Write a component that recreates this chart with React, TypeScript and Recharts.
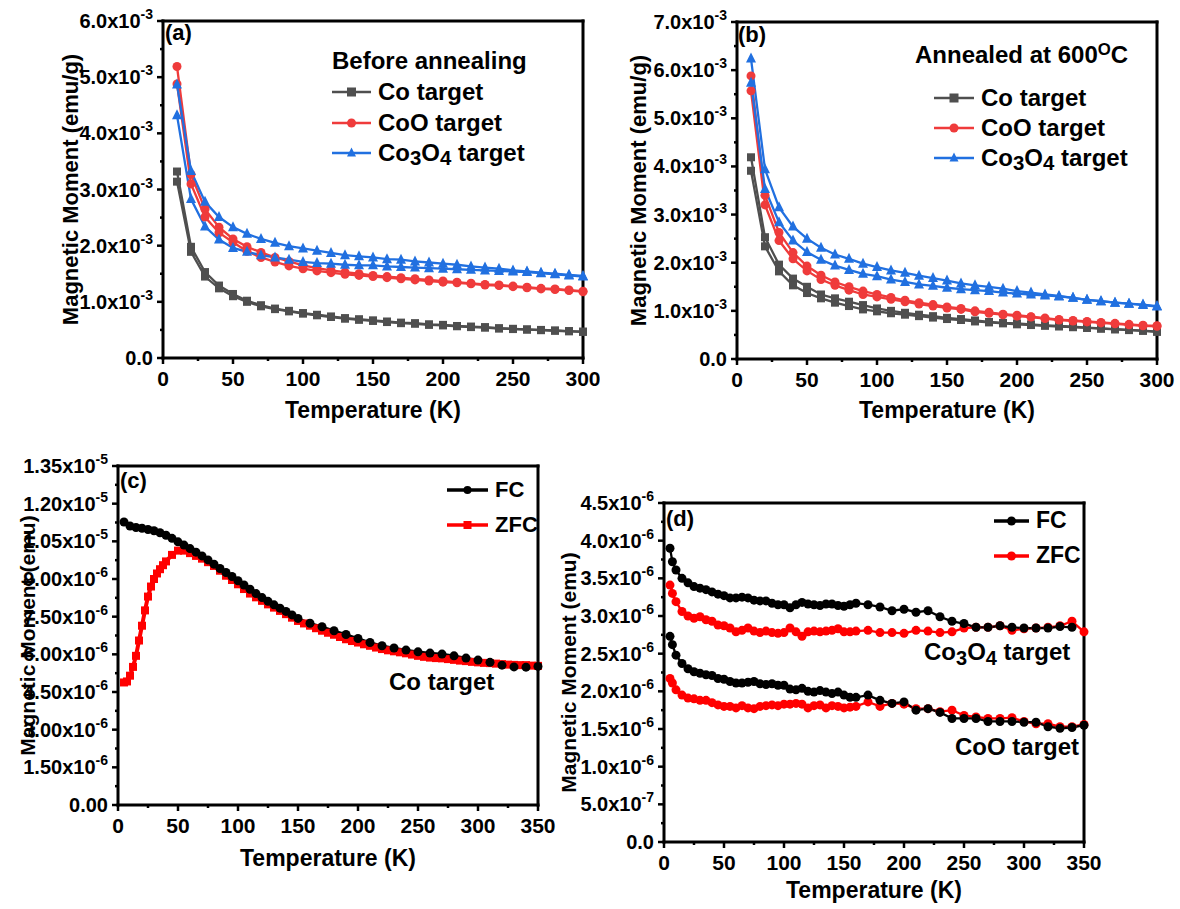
import React from 'react';
import { LineChart, Line, XAxis, YAxis, Legend, Customized, ReferenceLine } from 'recharts';

const FONT = '"Liberation Sans", Arial, Helvetica, sans-serif';
const GRAY = '#4f4f4f';
const RED = '#ef3b3b';
const BLUE = '#2170e0';
const BLACK = '#000000';
const ZRED = '#ff0000';

// ---------- panel (a) / (b): moment in 1e-3 emu/g, two branches per sample
const tempAB = [10, 20, 30, 40, 50, 60, 70, 80, 90, 100, 110, 120, 130, 140, 150, 160, 170, 180, 190, 200, 210, 220, 230, 240, 250, 260, 270, 280, 290, 300];

const coA1 = [3.32, 1.98, 1.53, 1.29, 1.14, 1.02, 0.94, 0.88, 0.84, 0.8, 0.77, 0.74, 0.71, 0.69, 0.67, 0.65, 0.63, 0.62, 0.6, 0.59, 0.57, 0.56, 0.55, 0.53, 0.52, 0.51, 0.5, 0.49, 0.48, 0.47];
const coA2 = [3.14, 1.89, 1.45, 1.24, 1.1, 1.0, 0.92, 0.87, 0.83, 0.79, 0.76, 0.73, 0.7, 0.68, 0.66, 0.64, 0.62, 0.61, 0.59, 0.58, 0.565, 0.55, 0.54, 0.525, 0.515, 0.505, 0.495, 0.485, 0.475, 0.465];
const cooA1 = [5.19, 3.27, 2.65, 2.33, 2.12, 1.98, 1.88, 1.79, 1.72, 1.65, 1.6, 1.56, 1.53, 1.5, 1.47, 1.45, 1.43, 1.41, 1.39, 1.37, 1.35, 1.33, 1.31, 1.3, 1.28, 1.26, 1.24, 1.23, 1.21, 1.19];
const cooA2 = [4.88, 3.1, 2.51, 2.23, 2.06, 1.9, 1.79, 1.71, 1.64, 1.59, 1.55, 1.52, 1.49, 1.47, 1.45, 1.43, 1.41, 1.39, 1.37, 1.35, 1.34, 1.32, 1.3, 1.29, 1.27, 1.25, 1.23, 1.22, 1.2, 1.18];
const co3A1 = [4.87, 3.33, 2.78, 2.51, 2.33, 2.21, 2.12, 2.05, 1.99, 1.95, 1.91, 1.87, 1.83, 1.81, 1.79, 1.76, 1.75, 1.72, 1.7, 1.68, 1.66, 1.63, 1.61, 1.59, 1.56, 1.54, 1.52, 1.5, 1.48, 1.46];
const co3A2 = [4.32, 2.83, 2.34, 2.11, 1.96, 1.89, 1.83, 1.79, 1.75, 1.71, 1.69, 1.68, 1.66, 1.65, 1.65, 1.63, 1.62, 1.61, 1.6, 1.59, 1.58, 1.57, 1.56, 1.55, 1.54, 1.53, 1.51, 1.49, 1.47, 1.45];

const coB1 = [4.19, 2.53, 1.96, 1.67, 1.5, 1.34, 1.26, 1.19, 1.12, 1.05, 1.0, 0.96, 0.92, 0.89, 0.855, 0.83, 0.8, 0.77, 0.75, 0.74, 0.72, 0.7, 0.685, 0.67, 0.65, 0.635, 0.62, 0.605, 0.59, 0.57];
const coB2 = [3.91, 2.34, 1.82, 1.53, 1.37, 1.26, 1.17, 1.1, 1.03, 0.99, 0.95, 0.92, 0.89, 0.86, 0.83, 0.81, 0.78, 0.76, 0.74, 0.72, 0.705, 0.69, 0.675, 0.66, 0.645, 0.63, 0.615, 0.6, 0.585, 0.565];
const cooB1 = [5.88, 3.4, 2.63, 2.21, 1.93, 1.74, 1.6, 1.5, 1.41, 1.34, 1.28, 1.22, 1.17, 1.13, 1.08, 1.05, 1.0, 0.97, 0.93, 0.91, 0.88, 0.85, 0.82, 0.8, 0.78, 0.76, 0.74, 0.72, 0.7, 0.69];
const cooB2 = [5.57, 3.2, 2.46, 2.08, 1.83, 1.65, 1.53, 1.43, 1.34, 1.29, 1.24, 1.19, 1.14, 1.1, 1.06, 1.03, 0.98, 0.95, 0.92, 0.89, 0.87, 0.84, 0.81, 0.79, 0.77, 0.75, 0.73, 0.71, 0.69, 0.68];
const co3B1 = [6.24, 3.94, 3.15, 2.75, 2.5, 2.31, 2.17, 2.08, 1.98, 1.91, 1.84, 1.79, 1.73, 1.68, 1.63, 1.57, 1.53, 1.5, 1.46, 1.41, 1.38, 1.34, 1.31, 1.27, 1.23, 1.2, 1.17, 1.15, 1.13, 1.1];
const co3B2 = [5.74, 3.53, 2.84, 2.46, 2.22, 2.06, 1.94, 1.85, 1.77, 1.72, 1.65, 1.6, 1.55, 1.52, 1.48, 1.45, 1.43, 1.41, 1.38, 1.36, 1.34, 1.32, 1.3, 1.27, 1.23, 1.2, 1.17, 1.15, 1.12, 1.09];

// ---------- panel (c): Co target, moment in 1e-6 emu
const tempCfc = [5, 10, 15, 20, 25, 30, 35, 40, 45, 50, 55, 60, 65, 70, 75, 80, 85, 90, 95, 100, 105, 110, 115, 120, 125, 130, 135, 140, 145, 150, 160, 170, 180, 190, 200, 210, 220, 230, 240, 250, 260, 270, 280, 290, 300, 310, 320, 330, 340, 350];
const fcC = [11.27, 11.11, 11.05, 11.02, 10.97, 10.92, 10.84, 10.74, 10.62, 10.48, 10.35, 10.21, 10.07, 9.92, 9.76, 9.59, 9.42, 9.26, 9.1, 8.93, 8.76, 8.59, 8.42, 8.26, 8.11, 7.97, 7.84, 7.71, 7.57, 7.43, 7.24, 7.1, 6.94, 6.79, 6.63, 6.47, 6.34, 6.25, 6.17, 6.1, 6.05, 6.01, 5.94, 5.85, 5.77, 5.68, 5.57, 5.5, 5.49, 5.52];
const tempCzfc = [5, 7.5, 10, 12.5, 15, 17.5, 20, 22.5, 25, 27.5, 30, 32.5, 35, 37.5, 40, 45, 50, 55, 60, 65, 70, 75, 80, 85, 90, 95, 100, 105, 110, 115, 120, 125, 130, 135, 140, 145, 150, 155, 160, 165, 170, 175, 180, 185, 190, 195, 200, 205, 210, 215, 220, 225, 230, 235, 240, 245, 250, 255, 260, 265, 270, 275, 280, 285, 290, 295, 300, 305, 310, 315, 320, 325, 330, 335, 340, 345, 350];
const zfcC = [4.88, 4.92, 5.15, 5.5, 5.94, 6.55, 7.14, 7.75, 8.3, 8.7, 9.0, 9.22, 9.39, 9.55, 9.7, 9.96, 10.13, 10.13, 10.03, 9.92, 9.81, 9.67, 9.52, 9.33, 9.13, 8.96, 8.79, 8.6, 8.42, 8.27, 8.13, 7.99, 7.86, 7.73, 7.6, 7.46, 7.33, 7.23, 7.14, 7.04, 6.94, 6.86, 6.78, 6.69, 6.6, 6.53, 6.47, 6.4, 6.34, 6.27, 6.21, 6.16, 6.12, 6.08, 6.04, 5.99, 5.94, 5.9, 5.87, 5.85, 5.84, 5.81, 5.78, 5.75, 5.73, 5.7, 5.68, 5.66, 5.65, 5.63, 5.61, 5.59, 5.58, 5.57, 5.57, 5.55, 5.54];

// ---------- panel (d): Co3O4 and CoO targets, moment in 1e-6 emu
const tempD = [5, 7, 10, 15, 20, 25, 30, 35, 40, 45, 50, 55, 60, 65, 70, 75, 80, 85, 90, 95, 100, 105, 110, 115, 120, 125, 130, 135, 140, 145, 150, 155, 160, 170, 180, 190, 200, 210, 220, 230, 240, 250, 260, 270, 280, 290, 300, 310, 320, 330, 340, 350];
const co3FcD = [3.9, 3.72, 3.61, 3.5, 3.44, 3.39, 3.37, 3.35, 3.32, 3.29, 3.27, 3.24, 3.24, 3.25, 3.24, 3.21, 3.2, 3.2, 3.17, 3.15, 3.15, 3.11, 3.15, 3.18, 3.16, 3.15, 3.14, 3.16, 3.16, 3.14, 3.13, 3.15, 3.17, 3.15, 3.12, 3.07, 3.09, 3.05, 3.07, 2.99, 2.93, 2.9, 2.85, 2.85, 2.87, 2.85, 2.84, 2.84, 2.84, 2.86, 2.85];
const co3ZfcD = [3.41, 3.3, 3.19, 3.06, 3.0, 2.97, 2.99, 2.95, 2.93, 2.88, 2.87, 2.84, 2.79, 2.81, 2.84, 2.8, 2.78, 2.8, 2.78, 2.77, 2.78, 2.84, 2.79, 2.73, 2.79, 2.8, 2.79, 2.8, 2.81, 2.83, 2.79, 2.79, 2.8, 2.81, 2.78, 2.78, 2.77, 2.81, 2.8, 2.78, 2.79, 2.84, 2.85, 2.85, 2.87, 2.81, 2.83, 2.84, 2.85, 2.87, 2.93, 2.79];
const cooFcD = [2.73, 2.62, 2.48, 2.37, 2.3, 2.26, 2.24, 2.22, 2.21, 2.17, 2.16, 2.13, 2.11, 2.11, 2.12, 2.13, 2.1, 2.09, 2.1, 2.08, 2.08, 2.03, 2.02, 2.04, 2.0, 1.99, 2.01, 1.99, 1.97, 1.99, 1.95, 1.92, 1.92, 1.95, 1.88, 1.84, 1.86, 1.75, 1.77, 1.72, 1.64, 1.64, 1.64, 1.6, 1.6, 1.6, 1.59, 1.59, 1.53, 1.51, 1.52, 1.55];
const cooZfcD = [2.17, 2.11, 2.02, 1.95, 1.91, 1.9, 1.88, 1.88, 1.85, 1.82, 1.8, 1.8, 1.78, 1.81, 1.78, 1.77, 1.8, 1.81, 1.82, 1.81, 1.83, 1.83, 1.84, 1.83, 1.78, 1.81, 1.82, 1.78, 1.81, 1.8, 1.78, 1.79, 1.8, 1.86, 1.8, 1.84, 1.83, 1.77, 1.77, 1.73, 1.75, 1.68, 1.66, 1.64, 1.64, 1.65, 1.6, 1.57, 1.57, 1.53, 1.53, 1.56];

// ---------- ticks
const xMajor300 = [0, 50, 100, 150, 200, 250, 300];
const xMinor300 = [25, 75, 125, 175, 225, 275];
const xMajor350 = [0, 50, 100, 150, 200, 250, 300, 350];
const xMinor350 = [25, 75, 125, 175, 225, 275, 325];
const yMajorA = [0, 1, 2, 3, 4, 5, 6];
const yMinorA = [0.5, 1.5, 2.5, 3.5, 4.5, 5.5];
const yMajorB = [0, 1, 2, 3, 4, 5, 6, 7];
const yMinorB = [0.5, 1.5, 2.5, 3.5, 4.5, 5.5, 6.5];
const yMajorC = [0, 1.5, 3, 4.5, 6, 7.5, 9, 10.5, 12, 13.5];
const yMinorC = [0.75, 2.25, 3.75, 5.25, 6.75, 8.25, 9.75, 11.25, 12.75];
const yMajorD = [0, 0.5, 1, 1.5, 2, 2.5, 3, 3.5, 4, 4.5];
const yMinorD = [0.25, 0.75, 1.25, 1.75, 2.25, 2.75, 3.25, 3.75, 4.25];

const pts = (t: number[], m: number[]) => m.map((M, i) => ({ T: t[i], M }));
const all = (a: number[], b: number[]) => [...a, ...b].sort((p, q) => p - q);

type Fmt = (v: number) => [string, string];
const fmtE3: Fmt = (v) => (v === 0 ? ['0.0', ''] : [v.toFixed(1) + 'x10', '-3']);
const fmtC: Fmt = (v) => (v === 0 ? ['0.00', ''] : v >= 10 ? [(v / 10).toFixed(2) + 'x10', '-5'] : [v.toFixed(2) + 'x10', '-6']);
const fmtD: Fmt = (v) => (v === 0 ? ['0.0', ''] : v < 1 ? [(v * 10).toFixed(1) + 'x10', '-7'] : [v.toFixed(1) + 'x10', '-6']);

const YTick = (props: any) => {
  const { x, y, payload, fmt, major } = props;
  const v = payload.value;
  const isMajor = major.includes(v);
  const [base, exp] = fmt(v);
  return (
    <g>
      <line x1={x} x2={x - (isMajor ? 6 : 3)} y1={y} y2={y} stroke="#000" strokeWidth={2.5} />
      {isMajor && (
        <text x={x - 10} y={y + 7} textAnchor="end" fontFamily={FONT} fontWeight="bold" fontSize={20} fill="#000">
          {base}
          {exp && <tspan dy={-9} fontSize={14}>{exp}</tspan>}
        </text>
      )}
    </g>
  );
};

const XTick = (props: any) => {
  const { x, y, payload, major } = props;
  const isMajor = major.includes(payload.value);
  return (
    <g>
      <line x1={x} x2={x} y1={y} y2={y + (isMajor ? 6 : 3)} stroke="#000" strokeWidth={2.5} />
      {isMajor && (
        <text x={x} y={y + 28} textAnchor="middle" fontFamily={FONT} fontWeight="bold" fontSize={21} fill="#000">
          {payload.value}
        </text>
      )}
    </g>
  );
};

const frameLine = { stroke: '#000', strokeWidth: 3, strokeLinecap: 'square' as const };

const xTitle = (text: string, dy: number) => ({
  content: (p: any) => {
    const vb = p.viewBox || {};
    return (
      <text x={vb.x + vb.width / 2} y={vb.y + dy} textAnchor="middle" fontFamily={FONT} fontWeight="bold" fontSize={23} fill="#000">
        {text}
      </text>
    );
  },
});

const yTitle = (text: string, cx: number, size: number) => ({
  content: (p: any) => {
    const vb = p.viewBox || {};
    const cy = vb.y + vb.height / 2;
    return (
      <text x={cx} y={cy} transform={`rotate(-90 ${cx} ${cy})`} textAnchor="middle" dominantBaseline="central" fontFamily={FONT} fontWeight="bold" fontSize={size} fill="#000">
        {text}
      </text>
    );
  },
});

// frame + ticks shared by all four panels (top/right edges drawn as reference lines)
const axes = (o: { xDomain: number[]; xMajor: number[]; xMinor: number[]; yDomain: number[]; yMajor: number[]; yMinor: number[]; fmt: Fmt; yWidth: number; xHeight: number; xLabel: any; yLabel: any }) => [
  <XAxis key="x" dataKey="T" type="number" domain={o.xDomain} ticks={all(o.xMajor, o.xMinor)} interval={0} height={o.xHeight} tickLine={false} tickSize={0} tickMargin={0} axisLine={frameLine} tick={<XTick major={o.xMajor} />} label={o.xLabel} />,
  <YAxis key="y" type="number" domain={o.yDomain} ticks={all(o.yMajor, o.yMinor)} interval={0} width={o.yWidth} tickLine={false} tickSize={0} tickMargin={0} axisLine={frameLine} tick={<YTick major={o.yMajor} fmt={o.fmt} />} label={o.yLabel} />,
  <ReferenceLine key="top" y={o.yDomain[1]} stroke="#000" strokeWidth={3} strokeLinecap="square" />,
  <ReferenceLine key="right" x={o.xDomain[1]} stroke="#000" strokeWidth={3} strokeLinecap="square" />,
];

// markers
const sq = (c: string, s: number) => (p: any) => <rect key={`s${p.index}`} x={p.cx - s / 2} y={p.cy - s / 2} width={s} height={s} fill={c} />;
const ci = (c: string, r: number) => (p: any) => <circle key={`c${p.index}`} cx={p.cx} cy={p.cy} r={r} fill={c} />;
const tri = (c: string, s: number) => (p: any) => (
  <polygon key={`t${p.index}`} points={`${p.cx},${p.cy - s * 0.6} ${p.cx - s / 2},${p.cy + s * 0.4} ${p.cx + s / 2},${p.cy + s * 0.4}`} fill={c} />
);

const Mark = ({ shape, color, x, y, s }: any) =>
  shape === 'square' ? <rect x={x - s / 2} y={y - s / 2} width={s} height={s} fill={color} />
  : shape === 'circle' ? <circle cx={x} cy={y} r={s / 2} fill={color} />
  : <polygon points={`${x},${y - s * 0.6} ${x - s / 2},${y + s * 0.4} ${x + s / 2},${y + s * 0.4}`} fill={color} />;

const Chem = ({ text }: { text: string }) => (
  <>
    {text.split(/(\d)/).map((part, i) =>
      /\d/.test(part) ? (
        <span key={i} style={{ fontSize: '0.85em', position: 'relative', top: '0.22em' }}>{part}</span>
      ) : (
        <span key={i}>{part}</span>
      )
    )}
  </>
);

const SeriesLegend = ({ header, headerH, gap, indent, items, font, iconW, rowH, lw, markS }: any) => (
  <div style={{ fontFamily: FONT, fontWeight: 'bold', color: '#000', fontSize: font, whiteSpace: 'nowrap' }}>
    {header && <div style={{ height: headerH, lineHeight: `${headerH}px`, marginBottom: gap }}>{header}</div>}
    {items.map((it: any) => (
      <div key={it.name} style={{ height: rowH, display: 'flex', alignItems: 'center', paddingLeft: indent }}>
        <svg width={iconW} height={14} style={{ display: 'block', marginRight: 7 }}>
          <line x1={0} x2={iconW} y1={7} y2={7} stroke={it.color} strokeWidth={lw} />
          <Mark shape={it.shape} color={it.color} x={iconW / 2} y={7} s={markS} />
        </svg>
        <span style={{ lineHeight: `${rowH}px` }}><Chem text={it.name} /></span>
      </div>
    ))}
  </div>
);

const targetItems = [
  { name: 'Co target', color: GRAY, shape: 'square' },
  { name: 'CoO target', color: RED, shape: 'circle' },
  { name: 'Co3O4 target', color: BLUE, shape: 'triangle' },
];
const fcItems = (zShape: string) => [
  { name: 'FC', color: BLACK, shape: 'circle' },
  { name: 'ZFC', color: ZRED, shape: zShape },
];

const txt = { fontFamily: FONT, fontWeight: 'bold' as const, fill: '#000' };

const line = (key: string, name: string, data: any[], color: string, dot: any, w = 2.3) => (
  <Line key={key} name={name} data={data} dataKey="M" type="linear" stroke={color} strokeWidth={w} dot={dot} activeDot={false} isAnimationActive={false} legendType="none" />
);

export default function App() {
  return (
    <div style={{ position: 'absolute', left: 0, top: 0, width: 1180, height: 909, background: '#fff', fontFamily: FONT }}>
      {/* (a) */}
      <div style={{ position: 'absolute', left: 0, top: 0 }}>
        <LineChart width={600} height={430} margin={{ top: 21, right: 17, bottom: 0, left: 0 }}>
          {axes({ xDomain: [0, 300], xMajor: xMajor300, xMinor: xMinor300, yDomain: [0, 6], yMajor: yMajorA, yMinor: yMinorA, fmt: fmtE3, yWidth: 163, xHeight: 72, xLabel: xTitle('Temperature (K)', 60), yLabel: yTitle('Magnetic Moment (emu/g)', 70, 22) })}
          {line('coA1', 'Co target', pts(tempAB, coA1), GRAY, sq(GRAY, 8))}
          {line('coA2', 'Co target', pts(tempAB, coA2), GRAY, sq(GRAY, 8))}
          {line('cooA1', 'CoO target', pts(tempAB, cooA1), RED, ci(RED, 4.5))}
          {line('cooA2', 'CoO target', pts(tempAB, cooA2), RED, ci(RED, 4.5))}
          {line('co3A1', 'Co3O4 target', pts(tempAB, co3A1), BLUE, tri(BLUE, 10))}
          {line('co3A2', 'Co3O4 target', pts(tempAB, co3A2), BLUE, tri(BLUE, 10))}
          <Legend layout="vertical" align="center" verticalAlign="middle" wrapperStyle={{ left: 332, top: 46, width: 260 }}
            content={() => <SeriesLegend header="Before annealing" headerH={30} gap={1} indent={0} items={targetItems} font={24} iconW={39} rowH={30.5} lw={2.5} markS={9} />} />
          <Customized component={() => <text x={165} y={40} fontSize={22} {...txt}>(a)</text>} />
        </LineChart>
      </div>

      {/* (b) */}
      <div style={{ position: 'absolute', left: 600, top: 0 }}>
        <LineChart width={580} height={430} margin={{ top: 22, right: 23, bottom: 0, left: 0 }}>
          {axes({ xDomain: [0, 300], xMajor: xMajor300, xMinor: xMinor300, yDomain: [0, 7], yMajor: yMajorB, yMinor: yMinorB, fmt: fmtE3, yWidth: 137, xHeight: 71, xLabel: xTitle('Temperature (K)', 59), yLabel: yTitle('Magnetic Moment (emu/g)', 38, 22) })}
          {line('coB1', 'Co target', pts(tempAB, coB1), GRAY, sq(GRAY, 8))}
          {line('coB2', 'Co target', pts(tempAB, coB2), GRAY, sq(GRAY, 8))}
          {line('cooB1', 'CoO target', pts(tempAB, cooB1), RED, ci(RED, 4.5))}
          {line('cooB2', 'CoO target', pts(tempAB, cooB2), RED, ci(RED, 4.5))}
          {line('co3B1', 'Co3O4 target', pts(tempAB, co3B1), BLUE, tri(BLUE, 10))}
          {line('co3B2', 'Co3O4 target', pts(tempAB, co3B2), BLUE, tri(BLUE, 10))}
          <Legend layout="vertical" align="center" verticalAlign="middle" wrapperStyle={{ left: 315, top: 40, width: 260 }}
            content={() => (
              <SeriesLegend
                header={<span>Annealed at 600<span style={{ fontSize: '0.7em', position: 'relative', top: '-0.45em' }}>O</span>C</span>}
                headerH={30} gap={13} indent={19} items={targetItems} font={24} iconW={40} rowH={30} lw={2.5} markS={9} />
            )} />
          <Customized component={() => <text x={138} y={42} fontSize={22} {...txt}>(b)</text>} />
        </LineChart>
      </div>

      {/* (c) */}
      <div style={{ position: 'absolute', left: 0, top: 440 }}>
        <LineChart width={560} height={440} margin={{ top: 26, right: 22, bottom: 0, left: 0 }}>
          {axes({ xDomain: [0, 350], xMajor: xMajor350, xMinor: xMinor350, yDomain: [0, 13.5], yMajor: yMajorC, yMinor: yMinorC, fmt: fmtC, yWidth: 118, xHeight: 75, xLabel: xTitle('Temperature (K)', 61), yLabel: yTitle('Magnetic Moment (emu)', 27, 21) })}
          {line('zfcC', 'ZFC', pts(tempCzfc, zfcC), ZRED, sq(ZRED, 8), 4)}
          {line('fcC', 'FC', pts(tempCfc, fcC), BLACK, ci(BLACK, 4.5), 2.5)}
          <Legend layout="vertical" align="center" verticalAlign="middle" wrapperStyle={{ left: 447, top: 32, width: 120 }}
            content={() => <SeriesLegend items={fcItems('square')} indent={0} font={22} iconW={41} rowH={35} lw={3.5} markS={8} />} />
          <Customized component={() => (
            <g>
              <text x={120} y={48} fontSize={22} {...txt}>(c)</text>
              <text x={389} y={250} fontSize={24} {...txt}>Co target</text>
            </g>
          )} />
        </LineChart>
      </div>

      {/* (d) */}
      <div style={{ position: 'absolute', left: 540, top: 470 }}>
        <LineChart width={640} height={439} margin={{ top: 33, right: 96, bottom: 0, left: 0 }}>
          {axes({ xDomain: [0, 350], xMajor: xMajor350, xMinor: xMinor350, yDomain: [0, 4.5], yMajor: yMajorD, yMinor: yMinorD, fmt: fmtD, yWidth: 124, xHeight: 67, xLabel: xTitle('Temperature (K)', 56), yLabel: yTitle('Magnetic Moment (emu)', 28, 21) })}
          {line('co3ZfcD', 'ZFC', pts(tempD, co3ZfcD), ZRED, ci(ZRED, 4.5))}
          {line('cooZfcD', 'ZFC', pts(tempD, cooZfcD), ZRED, ci(ZRED, 4.5))}
          {line('co3FcD', 'FC', pts(tempD, co3FcD), BLACK, ci(BLACK, 4.5))}
          {line('cooFcD', 'FC', pts(tempD, cooFcD), BLACK, ci(BLACK, 4.5))}
          <Legend layout="vertical" align="center" verticalAlign="middle" wrapperStyle={{ left: 454, top: 33, width: 120 }}
            content={() => <SeriesLegend items={fcItems('circle')} indent={0} font={23} iconW={35} rowH={35} lw={3.5} markS={9} />} />
          <Customized component={() => (
            <g>
              <text x={126} y={56} fontSize={22} {...txt}>(d)</text>
              <text x={384} y={190} fontSize={24} {...txt}>
                Co<tspan fontSize={20} dy={5}>3</tspan><tspan dy={-5}>O</tspan><tspan fontSize={20} dy={5}>4</tspan><tspan dy={-5}> target</tspan>
              </text>
              <text x={415} y={285} fontSize={24} {...txt}>CoO target</text>
            </g>
          )} />
        </LineChart>
      </div>
    </div>
  );
}
